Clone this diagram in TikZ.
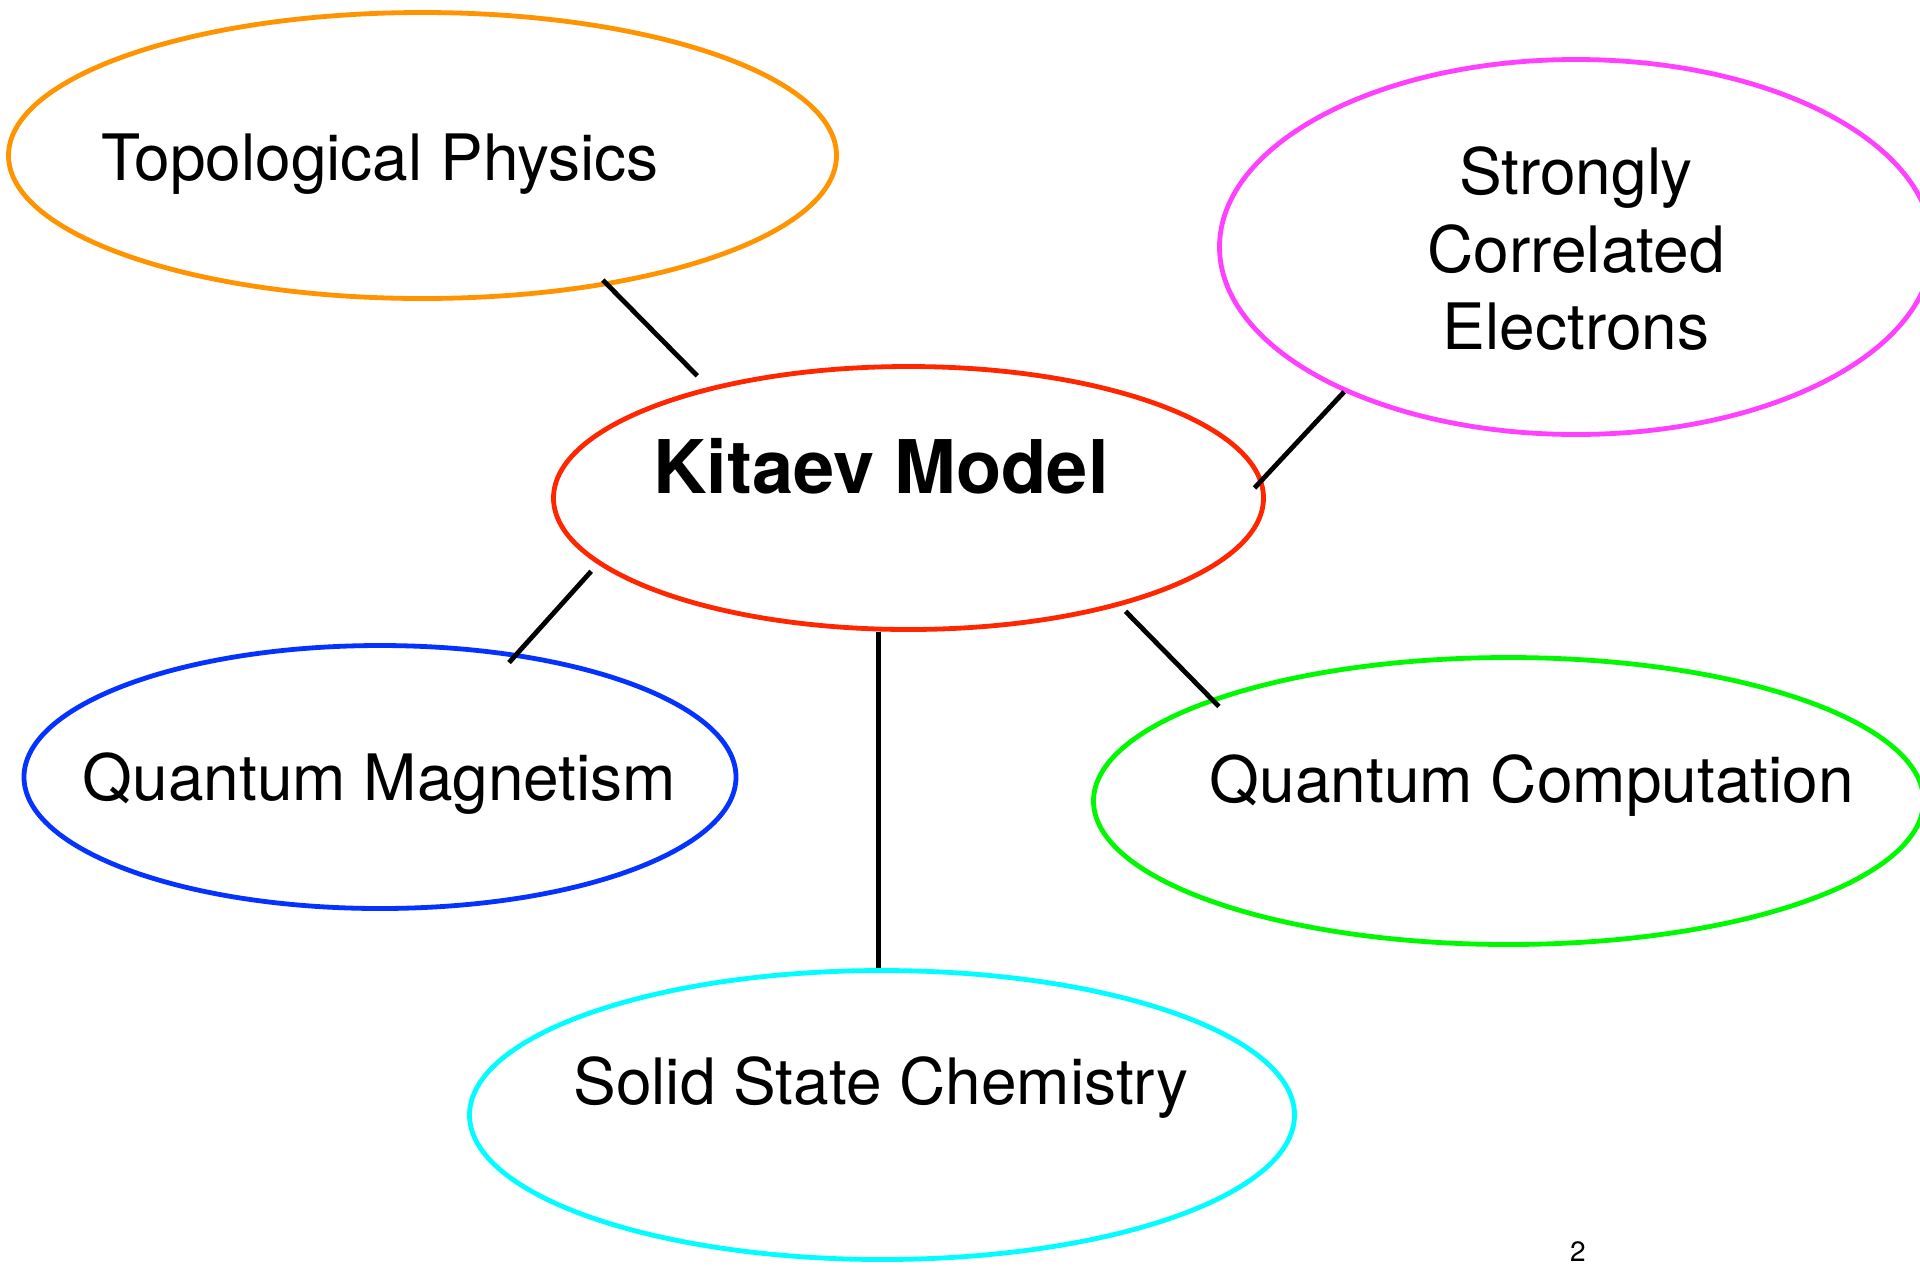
\documentclass[tikz,border=0pt]{standalone}
\usepackage{fontspec}
\setmainfont{TeX Gyre Heros}
\usepackage{tikz}
\usetikzlibrary{shapes.geometric}
\definecolor{kitaevred}{RGB}{255, 38, 0}
\definecolor{topoorange}{RGB}{255, 147, 0}
\definecolor{corrmagenta}{RGB}{255, 64, 255}
\definecolor{magblue}{RGB}{4, 51, 255}
\definecolor{compgreen}{RGB}{0, 249, 0}
\definecolor{solidcyan}{RGB}{0, 253, 255}

\begin{document}
\begin{tikzpicture}[x=0.5pt, y=-0.5pt,
          bubble/.style={draw, shape=ellipse, line width=2.4pt, inner sep=0pt},
          topic/.style={font=\fontsize{32}{38.75}\selectfont, inner sep=0pt, anchor=base},
          link/.style={line width=2.4pt, black}
        ]
          \useasboundingbox (0,0) rectangle (1920,1265);
          \clip (0,0) rectangle (1920,1265);

          % bubbles
          \node[bubble, draw=topoorange, minimum width=414pt, minimum height=143pt] (topo) at (422.5, 155.5) {};
          \node[bubble, draw=corrmagenta, minimum width=356.5pt, minimum height=187.5pt] (corr) at (1576, 247) {};
          \node[bubble, draw=kitaevred, minimum width=355pt, minimum height=131.5pt] (kitaev) at (908.5, 498) {};
          \node[bubble, draw=magblue, minimum width=356pt, minimum height=131.5pt] (magnet) at (380, 777) {};
          \node[bubble, draw=compgreen, minimum width=415pt, minimum height=143.5pt] (comp) at (1508.5, 801) {};
          \node[bubble, draw=solidcyan, minimum width=412.5pt, minimum height=144.5pt] (solid) at (882, 1115) {};

          % labels
          \node[topic] (topotext) at (380, 180) {Topological Physics};
          \node[topic, anchor=center, align=center] (corrtext) at (1576, 249) {Strongly\\Correlated\\Electrons};
          \node[topic, font=\fontsize{37}{44}\selectfont\bfseries] (kitaevtext) at (881, 493) {Kitaev Model};
          \node[topic] (magnettext) at (379.5, 800) {Quantum Magnetism};
          \node[topic] (comptext) at (1532, 802) {Quantum Computation};
          \node[topic] (solidtext) at (881, 1104) {Solid State Chemistry};
          \node[topic, font=\fontsize{14}{17}\selectfont] (pagenum) at (1578, 1261) {2};

          % links
          \draw[link, shorten <=-3.9pt, shorten >=7.9pt] (topo.-35.5) -- (kitaev.151.4);
          \draw[link, shorten <=-5.8pt] (kitaev.3.1) -- (corr.212.3);
          \draw[link, shorten <=4.85pt, shorten >=-6.2pt] (kitaev.192.7) -- (magnet.42);
          \draw[link, shorten <=3.8pt, shorten >=-5.5pt] (kitaev.-27.2) -- (comp.161.1);
          \draw[link] ([xshift=-1.75pt]solid.north) -- ([xshift=-1.75pt]solid.north |- kitaev.south);
        \end{tikzpicture}
\end{document}
